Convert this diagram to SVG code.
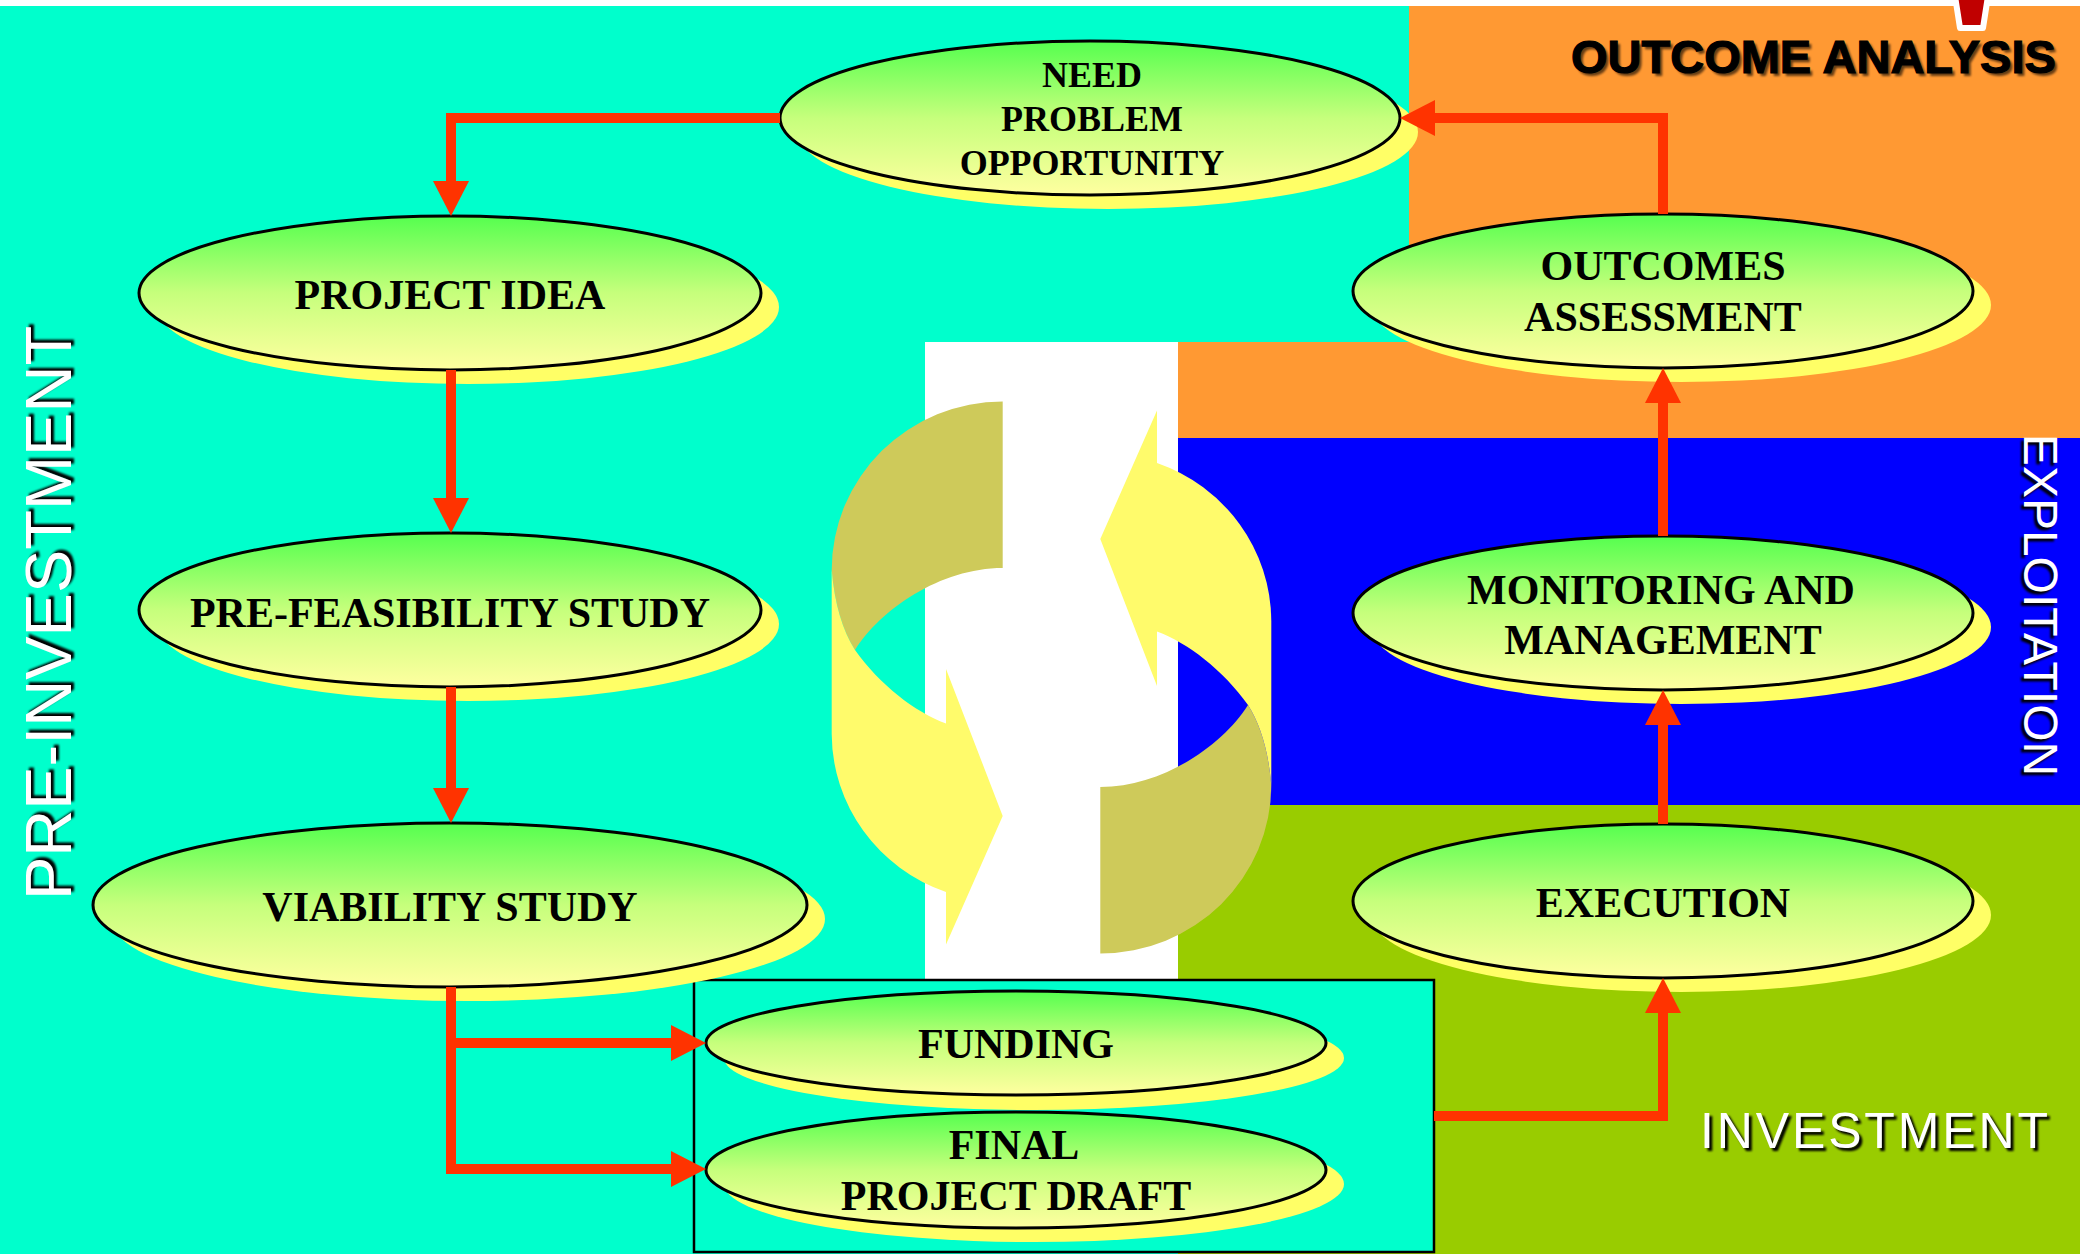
<svg xmlns="http://www.w3.org/2000/svg" width="2080" height="1254" viewBox="0 0 2080 1254">
  <defs>
    <linearGradient id="nodeFill" x1="0" y1="0" x2="0" y2="1">
      <stop offset="0" stop-color="#55FF4F"/>
      <stop offset="0.5" stop-color="#C6FF7C"/>
      <stop offset="1" stop-color="#FFFFA0"/>
    </linearGradient>
    <marker id="head" markerUnits="userSpaceOnUse" markerWidth="35" markerHeight="36" refX="0" refY="18" orient="auto">
      <path d="M0,0 L35,18 L0,36 Z" fill="#FF3300"/>
    </marker>
    <filter id="soft" x="-5%" y="-20%" width="110%" height="140%">
      <feGaussianBlur stdDeviation="1.3"/>
    </filter>
  </defs>
  <style>
    .shadow { fill: #FFFF66; }
    .node { fill: url(#nodeFill); stroke: #000; stroke-width: 3; }
    .lbl { font-family: "Liberation Serif", "Times New Roman", serif; font-weight: bold; font-size: 42px; text-anchor: middle; fill: #000; }
    .small { font-size: 36px; }
    .conn { fill: none; stroke: #FF3300; stroke-width: 10; stroke-linejoin: miter; stroke-linecap: butt; marker-end: url(#head); }
    .phase { font-family: "Liberation Sans", Arial, sans-serif; }
    .phase-w { fill: #fff; }
    .phase-s { fill: #000; filter: url(#soft); }
    .olive { fill: #CECA5A; }
    .yellow { fill: #FFFB6B; }
  </style>

  <!-- phase backgrounds -->
  <g id="backgrounds">
    <rect x="0" y="0" width="2080" height="1254" fill="#00FFCC"/>
    <rect x="0" y="0" width="2080" height="6" fill="#FFFFFF"/>
    <path d="M1409,6 H2080 V438 H1178 V342 H1409 Z" fill="#FF9933"/>
    <rect x="925" y="342" width="253" height="640" fill="#FFFFFF"/>
    <rect x="1178" y="438" width="902" height="367" fill="#0000FF"/>
    <rect x="1178" y="805" width="902" height="449" fill="#99CC00"/>
    <rect x="694" y="980" width="740" height="272" fill="#00FFCC" stroke="#000" stroke-width="2.5"/>
    <polygon points="1955,-4 1988,-4 1983,28 1960,28" fill="#C00000" stroke="#FFFFFF" stroke-width="6" stroke-linejoin="round"/>
  </g>

  <!-- cycle symbol in the middle -->
  <g id="cycle">
    <g id="cycle-left">
      <path class="olive" d="M1002.7,401.5 A171,168.5 0 0 0 831.7,570 Q836,620 855,650 C880,610 940,568 1002.7,568 Z"/>
      <path class="yellow" d="M831.7,570 L831.7,734 A171,168 0 0 0 946,892 L946,944.5 L1002.7,816 L946,669 L946,723.5 C915,712 880,685 855,650 Q836,620 831.7,570 Z"/>
    </g>
    <g id="cycle-right" transform="rotate(180 1051.5 677.5)">
      <path class="olive" d="M1002.7,401.5 A171,168.5 0 0 0 831.7,570 Q836,620 855,650 C880,610 940,568 1002.7,568 Z"/>
      <path class="yellow" d="M831.7,570 L831.7,734 A171,168 0 0 0 946,892 L946,944.5 L1002.7,816 L946,669 L946,723.5 C915,712 880,685 855,650 Q836,620 831.7,570 Z"/>
    </g>
  </g>

  <!-- phase labels -->
  <g id="phase-labels" class="phase">
    <g id="label-outcome-analysis">
      <text x="1574" y="76" font-size="47" font-weight="bold" fill="#000" opacity="0.6" filter="url(#soft)">OUTCOME ANALYSIS</text>
      <text x="1571" y="73" font-size="47" font-weight="bold" fill="#000" stroke="#000" stroke-width="1.2">OUTCOME ANALYSIS</text>
    </g>
    <g id="label-pre-investment" transform="translate(71,613) rotate(-90)">
      <text class="phase-s" x="3" y="3" font-size="65" text-anchor="middle">PRE-INVESTMENT</text>
      <text class="phase-w" x="0" y="0" font-size="65" text-anchor="middle">PRE-INVESTMENT</text>
    </g>
    <g id="label-exploitation" transform="translate(2024,605) rotate(90)">
      <text class="phase-s" x="3" y="3" font-size="48" text-anchor="middle">EXPLOITATION</text>
      <text class="phase-w" x="0" y="0" font-size="48" text-anchor="middle">EXPLOITATION</text>
    </g>
    <g id="label-investment">
      <text class="phase-s" x="1703" y="1151" font-size="50" textLength="348">INVESTMENT</text>
      <text class="phase-w" x="1700" y="1148" font-size="50" textLength="348">INVESTMENT</text>
    </g>
  </g>

  <!-- process steps -->
  <g id="nodes">
    <g id="node-need">
      <ellipse class="shadow" cx="1108" cy="132" rx="310" ry="77"/>
      <ellipse class="node" cx="1090" cy="118" rx="310" ry="77"/>
      <text class="lbl small" x="1092" y="87">NEED</text>
      <text class="lbl small" x="1092" y="131">PROBLEM</text>
      <text class="lbl small" x="1092" y="175">OPPORTUNITY</text>
    </g>
    <g id="node-project-idea">
      <ellipse class="shadow" cx="468" cy="307" rx="311" ry="77"/>
      <ellipse class="node" cx="450" cy="293" rx="311" ry="77"/>
      <text class="lbl" x="450" y="309">PROJECT IDEA</text>
    </g>
    <g id="node-pre-feasibility">
      <ellipse class="shadow" cx="468" cy="624" rx="311" ry="77"/>
      <ellipse class="node" cx="450" cy="610" rx="311" ry="77"/>
      <text class="lbl" x="450" y="627">PRE-FEASIBILITY STUDY</text>
    </g>
    <g id="node-viability">
      <ellipse class="shadow" cx="468" cy="919" rx="357" ry="82"/>
      <ellipse class="node" cx="450" cy="905" rx="357" ry="82"/>
      <text class="lbl" x="450" y="921">VIABILITY STUDY</text>
    </g>
    <g id="node-funding">
      <ellipse class="shadow" cx="1034" cy="1058" rx="310" ry="52"/>
      <ellipse class="node" cx="1016" cy="1043" rx="310" ry="52"/>
      <text class="lbl" x="1016" y="1058">FUNDING</text>
    </g>
    <g id="node-final-draft">
      <ellipse class="shadow" cx="1034" cy="1184" rx="310" ry="58"/>
      <ellipse class="node" cx="1016" cy="1170" rx="310" ry="58"/>
      <text class="lbl" x="1014" y="1159">FINAL</text>
      <text class="lbl" x="1016" y="1210">PROJECT DRAFT</text>
    </g>
    <g id="node-execution">
      <ellipse class="shadow" cx="1681" cy="915" rx="310" ry="77"/>
      <ellipse class="node" cx="1663" cy="901" rx="310" ry="77"/>
      <text class="lbl" x="1663" y="917">EXECUTION</text>
    </g>
    <g id="node-monitoring">
      <ellipse class="shadow" cx="1681" cy="627" rx="310" ry="77"/>
      <ellipse class="node" cx="1663" cy="613" rx="310" ry="77"/>
      <text class="lbl" x="1661" y="604">MONITORING AND</text>
      <text class="lbl" x="1663" y="654">MANAGEMENT</text>
    </g>
    <g id="node-outcomes">
      <ellipse class="shadow" cx="1681" cy="305" rx="310" ry="77"/>
      <ellipse class="node" cx="1663" cy="291" rx="310" ry="77"/>
      <text class="lbl" x="1663" y="280">OUTCOMES</text>
      <text class="lbl" x="1663" y="331">ASSESSMENT</text>
    </g>
  </g>

  <!-- flow connectors -->
  <g id="connectors">
    <path class="conn" d="M780,118 H451 V181"/>
    <path class="conn" d="M451,370 V498"/>
    <path class="conn" d="M451,687 V788"/>
    <path class="conn" d="M451,987 V1043 H671"/>
    <path class="conn" d="M451,987 V1169 H671"/>
    <path class="conn" d="M1434,1116 H1663 V1013"/>
    <path class="conn" d="M1663,824 V725"/>
    <path class="conn" d="M1663,536 V403"/>
    <path class="conn" d="M1663,214 V118 H1435"/>
  </g>
</svg>
